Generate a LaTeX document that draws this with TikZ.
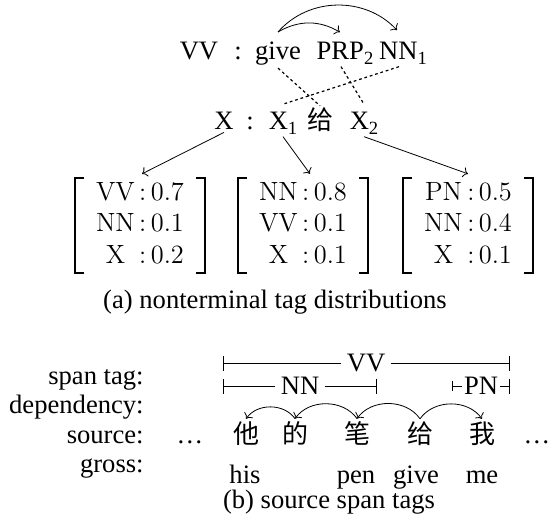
\documentclass[tikz,border=0pt]{standalone}
\usepackage{fontspec}
\usepackage{tikz}
\usetikzlibrary{arrows.meta}
\newfontfamily\tnr{Liberation Serif}
\newfontfamily\zh{Noto Sans CJK SC}
\newcommand{\sub}[1]{\raisebox{-0.35ex}{\fontsize{9.3}{10}\selectfont #1}}

\begin{document}
\begin{tikzpicture}[x=0.5pt,y=-0.5pt,
  word/.style={font=\tnr\fontsize{13.3}{16}\selectfont, inner sep=1pt, anchor=base},
  han/.style={font=\zh\fontsize{13}{15}\selectfont, inner sep=1pt, anchor=base},
  tagdist/.style={font=\rmfamily\fontsize{13.2}{15.75}\selectfont, inner xsep=10.5pt, inner ysep=0pt},
  bracket/.style={line width=0.9pt},
  spantag/.style={font=\tnr\fontsize{13.3}{16}\selectfont, inner sep=2.5pt},
  align/.style={dash pattern=on 1.4pt off 1.4pt, line width=0.6pt}]
\useasboundingbox (0,0) rectangle (550,523);

% Rule: source and target sides
\node[word] (vv) at (199,60) {VV};
\node[word] (c1) at (238,60) {:};
\node[word] (give) at (278,60) {give};
\node[word] (prp) at (345,60) {PRP\sub{2}};
\node[word] (nn) at (403,60) {NN\sub{1}};

\node[word] (x) at (224,130) {X};
\node[word] (c2) at (250,130) {:};
\node[word] (x1) at (283,130) {X\sub{1}};
\node[han] (gei) at (320,130) {给};
\node[word] (x2) at (364,130) {X\sub{2}};

% Reordering arcs
\draw[->] ([yshift=4pt]give.north) to[bend left=30] ([xshift=-2.5pt,yshift=4pt]prp.north);
\draw[->] ([yshift=4pt]give.north) to[bend left=48] ([xshift=-3pt,yshift=5pt]nn.north);

% Word alignment
\draw[align] (give.south) -- (gei.north);
\draw[align] ([xshift=-2pt]prp.south) -- ([yshift=3pt]x2.north);
\draw[align] ([xshift=-2pt]nn.south) -- ([yshift=3pt]x1.north);

% Tag distributions
\node[tagdist] (dleft) at (140,225.5) {\begin{tabular}{@{}c@{\,:\,}l@{}}
  VV & 0.7\\ NN & 0.1\\ X & 0.2\end{tabular}};
\node[tagdist] (dmid) at (303,225.5) {\begin{tabular}{@{}c@{\,:\,}l@{}}
  NN & 0.8\\ VV & 0.1\\ X & 0.1\end{tabular}};
\node[tagdist] (dright) at (468,225.5) {\begin{tabular}{@{}c@{\,:\,}l@{}}
  PN & 0.5\\ NN & 0.4\\ X & 0.1\end{tabular}};

\foreach \d in {dleft,dmid,dright} {
  \draw[bracket] ([xshift=4.5pt]\d.north west) -- (\d.north west) -- (\d.south west) -- ([xshift=4.5pt]\d.south west);
  \draw[bracket] ([xshift=-4.5pt]\d.north east) -- (\d.north east) -- (\d.south east) -- ([xshift=-4.5pt]\d.south east);
}

\draw[->] (x.south) -- ([xshift=1pt,yshift=2pt]dleft.north);
\draw[->] (x1.south) -- ([xshift=3.5pt,yshift=2pt]dmid.north);
\draw[->] (x2.south) -- ([yshift=2pt]dright.north);

\node[word] (capa) at (275,308) {(a) nonterminal tag distributions};

% Row labels
\node[word, anchor=base east] (lspan) at (146,384) {span tag:};
\node[word, anchor=base east] (ldep) at (146,413) {dependency:};
\node[word, anchor=base east] (lsrc) at (146,443) {source:};
\node[word, anchor=base east] (lgloss) at (146,472) {gross:};

% Source sentence
\node[word] (dotl) at (190,443) {\ldots};
\node[han] (ta) at (246,443) {他};
\node[han] (de) at (295,443) {的};
\node[han] (bi) at (357,443) {笔};
\node[han] (gei2) at (420,443) {给};
\node[han] (wo) at (482,443) {我};
\node[word] (dotr) at (537,443) {\ldots};

\node[word] (his) at (245,483) {his};
\node[word] (pen) at (356,483) {pen};
\node[word] (giv) at (416,483) {give};
\node[word] (me) at (482,483) {me};

% Dependency arcs
\draw[->] (de.north) to[bend right=55] (ta.north);
\draw[->] (bi.north) to[bend right=55] (de.north);
\draw[->] (gei2.north) to[bend right=55] (bi.north);
\draw[->] (gei2.north) to[bend left=55] (wo.north);

% Span tags
\coordinate (vvl) at (223,363);
\coordinate (vvr) at (510,363);
\node[spantag] (vvtag) at (366,363) {VV};
\draw[{Bar[width=7.5pt]}-] (vvl) -- (vvtag);
\draw[-{Bar[width=7.5pt]}] (vvtag) -- (vvr);

\coordinate (nnl) at (223,386);
\coordinate (nnr) at (377,386);
\node[spantag] (nntag) at (300,386) {NN};
\draw[{Bar[width=7.5pt]}-] (nnl) -- (nntag);
\draw[-{Bar[width=7.5pt]}] (nntag) -- (nnr);

\coordinate (pnl) at (452,386);
\coordinate (pnr) at (510,386);
\node[spantag, inner sep=1pt] (pntag) at (481,386) {PN};
\draw[{Bar[width=5pt]}-] (pnl) -- (pntag);
\draw[-{Bar[width=7.5pt]}] (pntag) -- (pnr);

\node[word] (capb) at (329,508) {(b) source span tags};

\end{tikzpicture}
\end{document}
